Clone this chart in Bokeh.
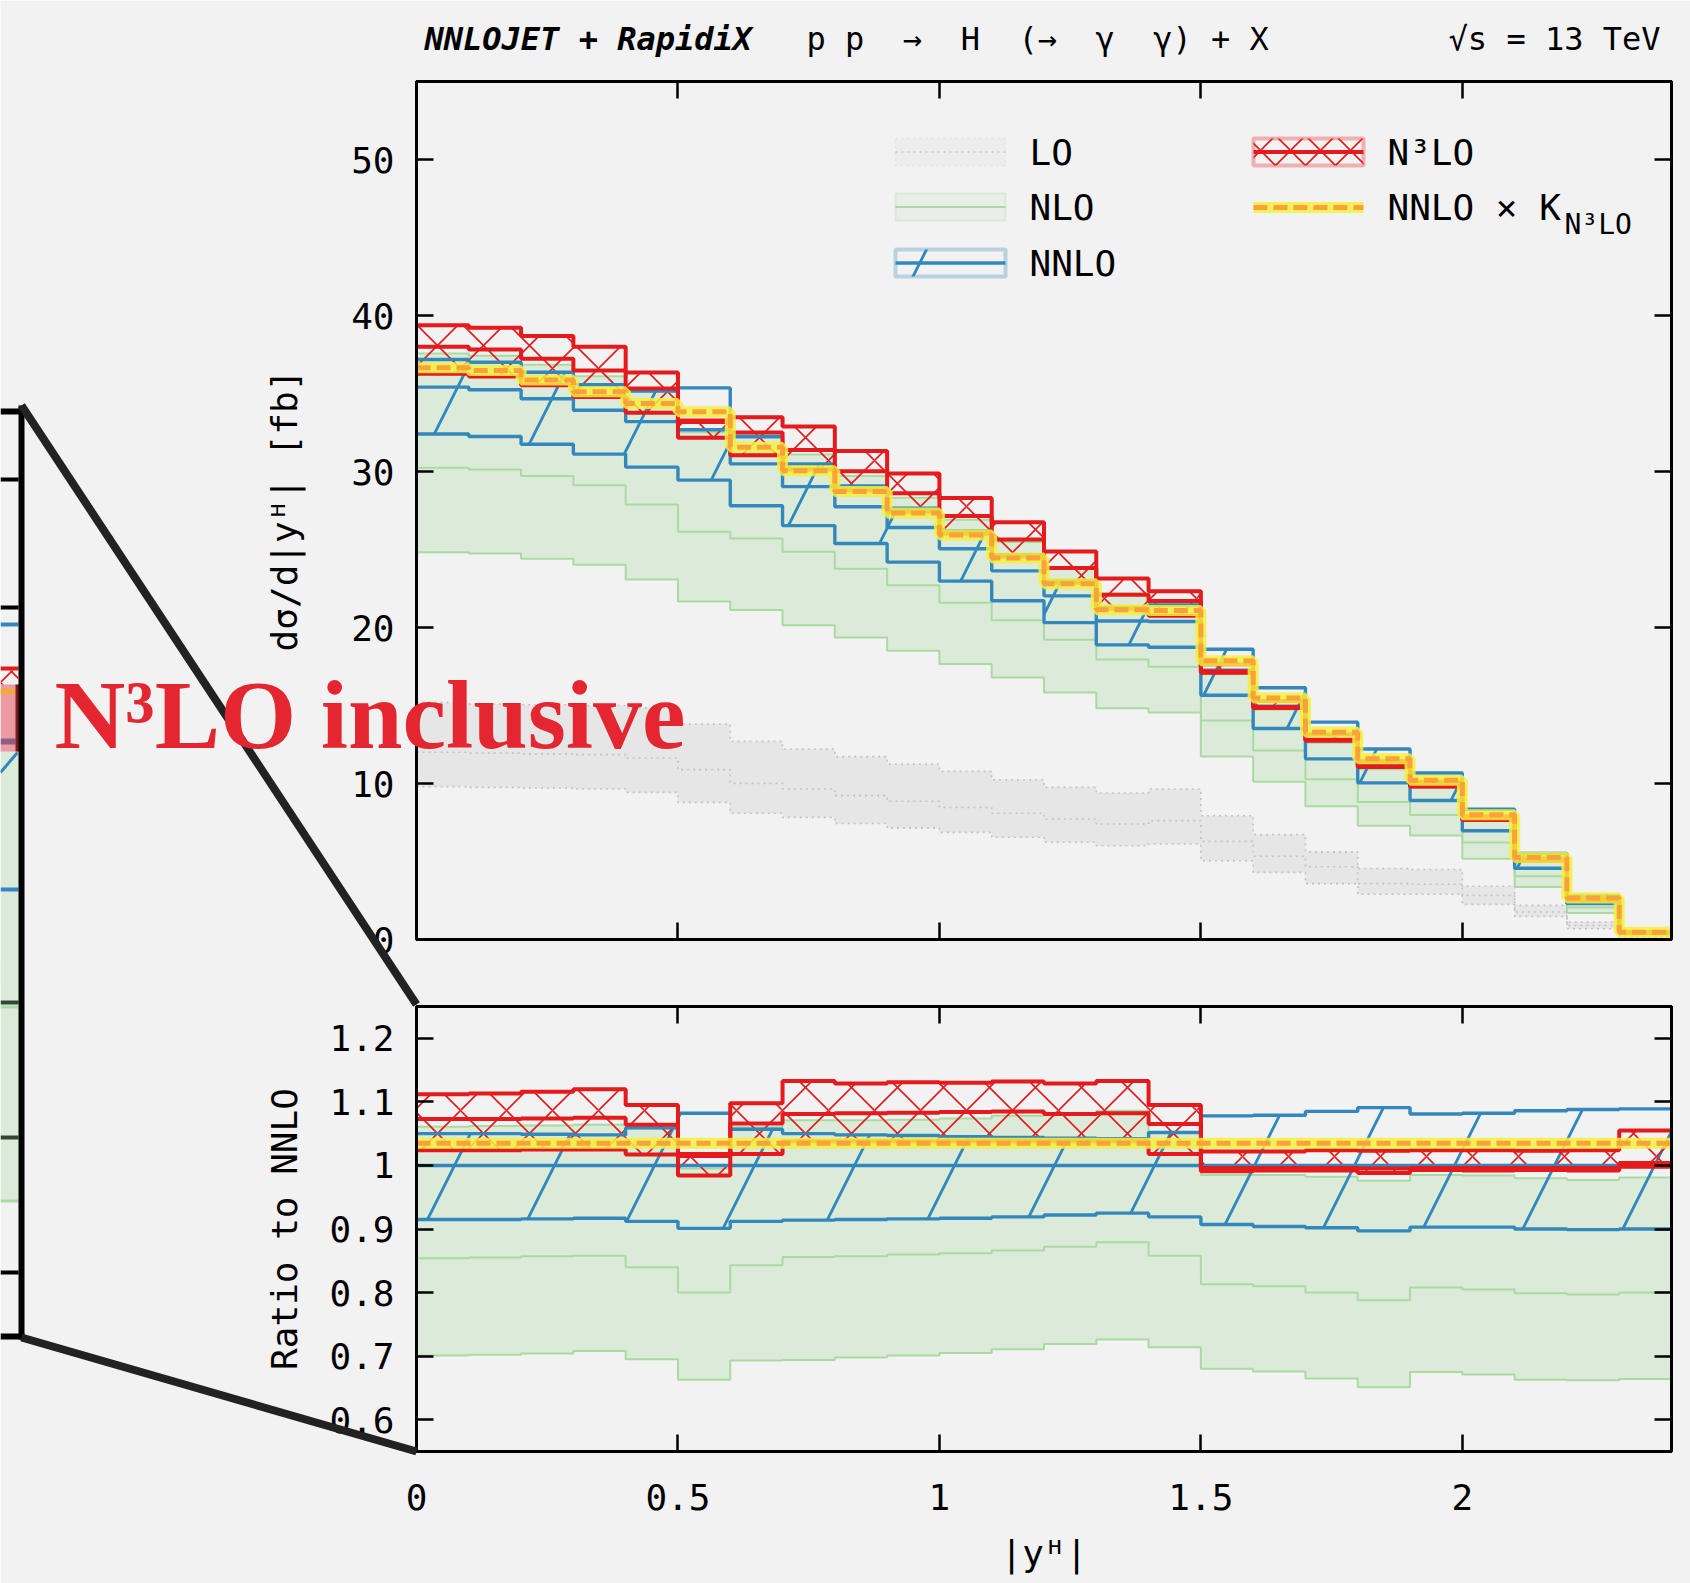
import numpy as np
from bokeh.plotting import figure
from bokeh.layouts import column
from bokeh.models import (Range1d, FixedTicker, LinearAxis, Label, BoxAnnotation,
                          Arrow, PrintfTickFormatter)
from bokeh.embed import file_html
from bokeh.resources import INLINE

# ---------------------------------------------------------------- data
# |y^H| bin edges
edges = [0.0, 0.1, 0.2, 0.3, 0.4, 0.5, 0.6, 0.7, 0.8, 0.9, 1.0, 1.1, 1.2,
         1.3, 1.4, 1.5, 1.6, 1.7, 1.8, 1.9, 2.0, 2.1, 2.2, 2.3, 2.4]

# LO cross section [fb]: scale-variation envelope and central value
lo_up = [15.2, 15.1, 15.05, 15.0, 14.85, 13.81, 12.70, 12.21, 11.72, 11.25, 10.78, 10.24,
         9.75, 9.39, 9.65, 7.93, 6.72, 5.62, 4.55, 4.49, 3.41, 2.19, 1.12, 0.35]
lo_central = [12.0, 11.95, 11.9, 11.85, 11.63, 10.89, 10.01, 9.65, 9.22, 8.86, 8.47, 8.09,
              7.72, 7.40, 7.62, 6.29, 5.34, 4.66, 3.58, 3.54, 2.83, 1.76, 0.90, 0.25]
lo_down = [9.8, 9.75, 9.7, 9.65, 9.43, 8.79, 8.09, 7.83, 7.44, 7.14, 6.87, 6.55,
           6.23, 6.01, 6.12, 5.05, 4.30, 3.58, 2.90, 2.90, 2.25, 1.48, 0.69, 0.15]

# NNLO central cross section [fb]
nnlo_central = [35.41, 35.24, 34.66, 33.93, 33.20, 32.68, 30.49, 29.03, 27.74, 26.41, 25.05, 23.63,
                22.03, 20.42, 20.38, 17.26, 14.96, 12.84, 11.19, 9.87, 7.72, 5.08, 2.57, 0.45]

# all other orders, relative to the NNLO central value
nnlo_up_r = [1.050, 1.050, 1.049, 1.048, 1.059, 1.082, 1.057, 1.050, 1.048, 1.047, 1.045, 1.044,
             1.043, 1.042, 1.052, 1.078, 1.079, 1.085, 1.091, 1.081, 1.082, 1.086, 1.088, 1.089]
nnlo_down_r = [0.915, 0.915, 0.916, 0.917, 0.912, 0.901, 0.912, 0.914, 0.915, 0.916, 0.917, 0.919,
               0.922, 0.925, 0.919, 0.907, 0.904, 0.902, 0.897, 0.903, 0.903, 0.900, 0.899, 0.900]

nlo_up_r = [1.061, 1.062, 1.063, 1.064, 1.058, 0.995, 1.060, 1.071, 1.071, 1.072, 1.074, 1.078,
            1.082, 1.086, 1.050, 0.985, 0.985, 0.982, 0.976, 0.985, 0.984, 0.980, 0.977, 0.981]
nlo_r = [0.854, 0.855, 0.857, 0.858, 0.840, 0.800, 0.843, 0.856, 0.857, 0.860, 0.862, 0.866,
         0.872, 0.879, 0.858, 0.813, 0.810, 0.800, 0.788, 0.808, 0.805, 0.799, 0.797, 0.800]
nlo_down_r = [0.701, 0.702, 0.704, 0.708, 0.695, 0.663, 0.693, 0.694, 0.698, 0.701, 0.705, 0.711,
              0.719, 0.726, 0.714, 0.680, 0.676, 0.665, 0.651, 0.675, 0.671, 0.663, 0.662, 0.664]

n3lo_up_r = [1.112, 1.113, 1.116, 1.120, 1.095, 1.018, 1.098, 1.133, 1.129, 1.131, 1.130, 1.132,
             1.129, 1.133, 1.095, 1.022, 1.022, 1.024, 1.023, 1.024, 1.024, 1.023, 1.024, 1.055]
n3lo_r = [1.073, 1.073, 1.074, 1.075, 1.064, 1.015, 1.066, 1.081, 1.082, 1.083, 1.084, 1.085,
          1.081, 1.082, 1.065, 0.996, 0.996, 0.996, 0.995, 0.996, 0.996, 0.996, 0.996, 1.004]
n3lo_down_r = [1.024, 1.024, 1.025, 1.025, 1.017, 0.984, 1.018, 1.038, 1.038, 1.038, 1.038, 1.038,
               1.038, 1.038, 1.018, 0.991, 0.992, 0.992, 0.988, 0.993, 0.992, 0.993, 0.992, 0.998]

# inclusive N3LO / NNLO K-factor
k_n3lo = 1.035

x_ticks = [0, 0.5, 1, 1.5, 2]
y_ticks_main = [0, 10, 20, 30, 40, 50]
y_ticks_ratio = [0.6, 0.7, 0.8, 0.9, 1.0, 1.1, 1.2]

# ---------------------------------------------------------------- style
BG = "#f2f2f2"
MONO = "DejaVu Sans Mono"
LO_FILL, LO_LINE = "#e6e6e6", "#c2c2c2"
NLO_FILL, NLO_LINE = "#dcebd9", "#a9dba1"
BLUE = "#3288bd"
RED = "#e41a1c"
YELLOW, ORANGE = "#f5f03c", "#f9a23b"
INK = "#222222"
BLUE_HATCH = 200
RED_HATCH = 46

nnlo = np.array(nnlo_central)
absolute = {
    "nlo": [np.array(r) * nnlo for r in (nlo_down_r, nlo_r, nlo_up_r)],
    "nnlo": [np.array(r) * nnlo for r in (nnlo_down_r, np.ones(len(nnlo)), nnlo_up_r)],
    "n3lo": [np.array(r) * nnlo for r in (n3lo_down_r, n3lo_r, n3lo_up_r)],
    "k": nnlo * k_n3lo,
}
relative = {key: ([v / nnlo for v in val] if isinstance(val, list) else val / nnlo)
            for key, val in absolute.items()}


def st(v):
    v = list(v)
    return v + [v[-1]]


def draw_orders(p, s, lo=None):
    if lo is not None:
        p.varea_step(x=edges, y1=st(lo[0]), y2=st(lo[2]), step_mode="after",
                     fill_color=LO_FILL, fill_alpha=1)
        for v in lo:
            p.step(x=edges, y=st(v), mode="after", line_color=LO_LINE,
                   line_width=1.6, line_dash="2 4")
    d, c, u = s["nlo"]
    p.varea_step(x=edges, y1=st(d), y2=st(u), step_mode="after", fill_color=NLO_FILL)
    for v in (d, c, u):
        p.step(x=edges, y=st(v), mode="after", line_color=NLO_LINE, line_width=2)
    d, c, u = s["nnlo"]
    p.varea_step(x=edges, y1=st(d), y2=st(u), step_mode="after", fill_alpha=0,
                 hatch_pattern="/", hatch_color=BLUE, hatch_scale=BLUE_HATCH, hatch_weight=2.8)
    rd, rc, ru = s["n3lo"]
    p.varea_step(x=edges, y1=st(rd), y2=st(ru), step_mode="after", fill_alpha=0,
                 hatch_pattern="x", hatch_color=RED, hatch_scale=RED_HATCH, hatch_weight=1.6)
    for v in (d, c, u):
        p.step(x=edges, y=st(v), mode="after", line_color=BLUE, line_width=3.4)
    for v in (rd, rc, ru):
        p.step(x=edges, y=st(v), mode="after", line_color=RED, line_width=4)
    p.step(x=edges, y=st(s["k"]), mode="after", line_color=YELLOW, line_alpha=0.85,
           line_width=11)
    p.step(x=edges, y=st(s["k"]), mode="after", line_color=ORANGE, line_width=5,
           line_dash="14 6")


def style_axis(ax, ticks, show_labels):
    ax.ticker = FixedTicker(ticks=ticks)
    ax.formatter = PrintfTickFormatter(format="%g")
    ax.major_tick_in = 17
    ax.major_tick_out = 0
    ax.minor_tick_in = 0
    ax.minor_tick_out = 0
    ax.major_tick_line_width = 2.5
    ax.major_tick_line_color = "black"
    ax.axis_line_width = 3
    ax.axis_line_color = "black"
    ax.major_label_text_font = MONO
    ax.axis_label_text_font = MONO
    ax.axis_label_text_font_size = "36px"
    ax.axis_label_text_font_style = "normal"
    ax.axis_label_text_color = "black"
    if show_labels:
        ax.major_label_text_font_size = "36px"
        ax.major_label_text_color = "black"
    else:
        # tick marks only on this side
        ax.major_label_text_font_size = "1px"
        ax.major_label_text_color = None
        ax.major_label_standoff = 0


def make_fig(height, y_range, top, bottom):
    p = figure(width=1690, height=height, x_range=xr, y_range=y_range,
               output_backend="svg", toolbar_location=None, title=None,
               min_border_left=416, min_border_right=19,
               min_border_top=top, min_border_bottom=bottom,
               background_fill_color=BG, border_fill_color=BG,
               outline_line_color="black", outline_line_width=3)
    p.grid.visible = False
    return p


def box(p, x0, x1, y0, y1, **kw):
    p.add_layout(BoxAnnotation(left=x0, right=x1, top=y0, bottom=y1,
                               left_units="canvas", right_units="canvas",
                               top_units="canvas", bottom_units="canvas", **kw))


def seg(p, x0, y0, x1, y1, **kw):
    p.add_layout(Arrow(end=None, x_start=x0, y_start=y0, x_end=x1, y_end=y1,
                       start_units="canvas", end_units="canvas", **kw))


def text(p, x, y, t, size, units="canvas", **kw):
    p.add_layout(Label(x=x, y=y, x_units=units, y_units=units, text=t,
                       text_font=kw.pop("font", MONO), text_font_size=size,
                       text_color=kw.pop("color", "black"), **kw))


xr = Range1d(0, 2.4)
SPLIT = 972  # canvas row where the ratio panel begins

# ---------------------------------------------------------------- main panel
p1 = make_fig(SPLIT, Range1d(0, 55), 81, 33)
draw_orders(p1, absolute, lo=(lo_down, lo_central, lo_up))
style_axis(p1.xaxis[0], x_ticks, False)
style_axis(p1.yaxis[0], y_ticks_main, True)
p1.yaxis[0].major_label_standoff = 22
p1.yaxis[0].axis_label = "dσ/d|yᴴ| [fb]"
p1.yaxis[0].axis_label_standoff = 43
for loc, ticks in (("right", y_ticks_main), ("above", x_ticks)):
    ax = LinearAxis()
    style_axis(ax, ticks, False)
    p1.add_layout(ax, loc)

# legend
box(p1, 895, 1005, 138, 165, fill_color=LO_FILL, line_color=LO_LINE, line_width=1.6, line_dash="2 4")
seg(p1, 895, 151.5, 1005, 151.5, line_color=LO_LINE, line_width=1.6, line_dash="2 4")
box(p1, 895, 1005, 193, 220, fill_color=NLO_FILL, line_color=NLO_LINE, line_width=2)
seg(p1, 895, 206.5, 1005, 206.5, line_color=NLO_LINE, line_width=2)
box(p1, 895, 1005, 249, 276, fill_alpha=0, line_color=BLUE, line_width=4,
    hatch_pattern="/", hatch_color=BLUE, hatch_scale=BLUE_HATCH, hatch_weight=2.8)
seg(p1, 895, 262.5, 1005, 262.5, line_color=BLUE, line_width=3.4)
box(p1, 1253, 1363, 138, 165, fill_alpha=0, line_color=RED, line_width=4,
    hatch_pattern="x", hatch_color=RED, hatch_scale=30, hatch_weight=1.6)
seg(p1, 1253, 151.5, 1363, 151.5, line_color=RED, line_width=4)
seg(p1, 1253, 207, 1363, 207, line_color=YELLOW, line_alpha=0.85, line_width=11)
seg(p1, 1253, 207, 1363, 207, line_color=ORANGE, line_width=5, line_dash="14 6")
for y, t in ((152, "LO"), (207, "NLO"), (263, "NNLO")):
    text(p1, 1029, y, t, "36px", text_baseline="middle")
text(p1, 1387, 152, "N³LO", "36px", text_baseline="middle")
text(p1, 1387, 207, "NNLO × K", "36px", text_baseline="middle")
text(p1, 1564, 224, "N³LO", "28px", text_baseline="alphabetic")

# ---------------------------------------------------------------- ratio panel
p2 = make_fig(1583 - SPLIT, Range1d(0.55, 1.25), 34, 132)
draw_orders(p2, relative)
style_axis(p2.xaxis[0], x_ticks, True)
p2.xaxis[0].major_label_standoff = 32
p2.xaxis[0].axis_label = "|yᴴ|"
p2.xaxis[0].axis_label_standoff = 20
style_axis(p2.yaxis[0], y_ticks_ratio, True)
p2.yaxis[0].major_label_standoff = 22
p2.yaxis[0].axis_label = "Ratio to NNLO"
p2.yaxis[0].axis_label_standoff = 21
for loc, ticks in (("right", y_ticks_ratio), ("above", x_ticks)):
    ax = LinearAxis()
    style_axis(ax, ticks, False)
    p2.add_layout(ax, loc)

# ---------------------------------------------------------------- page overlay (pixel space)
ov = figure(width=1690, height=1583, x_range=Range1d(0, 1690), y_range=Range1d(1583, 0),
            output_backend="svg", toolbar_location=None, title=None, min_border=0,
            x_axis_type=None, y_axis_type=None, background_fill_alpha=0,
            border_fill_alpha=0, outline_line_color=None,
            styles={"position": "absolute", "left": "0px", "top": "0px"})
ov.grid.visible = False

# background strip over the seam between the two panels
ov.quad(left=[0], right=[1690], top=[962], bottom=[984], fill_color=BG, line_alpha=0)

# header
text(ov, 424, 38, "NNLOJET + RapidiX", "32px", units="data", text_font_style="bold italic",
     text_baseline="alphabetic")
text(ov, 806, 38, "p\u00a0p\u00a0\u00a0→\u00a0\u00a0H\u00a0\u00a0(→\u00a0\u00a0γ\u00a0\u00a0γ)\u00a0+\u00a0X",
     "32px", units="data", text_baseline="alphabetic")
text(ov, 1660, 38, "√s = 13 TeV", "32px", units="data", text_align="right",
     text_baseline="alphabetic")

# magnified panel peeking in at the left edge
inset = [  # x0, x1, y0, y1, colour
    (0, 18, 748, 1201, NLO_FILL),
    (0, 18, 622, 626, BLUE),
    (0, 18, 887, 891, BLUE),
    (0, 18, 666, 670, RED),
    (0, 23, 684, 751, "#ee9aa2"),
    (0, 15, 688, 694, "#f4a640"),
    (0, 15, 738, 744, "#8e5f86"),
    (15, 23, 684, 751, "#7b1a1e"),
    (0, 18, 1000, 1004, "#344434"),
    (0, 18, 1005, 1008, NLO_LINE),
    (0, 18, 1135, 1139, "#344434"),
    (0, 18, 1199, 1202, NLO_LINE),
    (0, 18, 477, 481, "black"),
    (0, 18, 605, 609, "black"),
    (0, 18, 1270, 1274, "black"),
    (0, 24, 408, 414, "black"),
    (0, 24, 1333, 1339, "black"),
    (18, 24, 405, 1339, "black"),
]
ov.quad(left=[b[0] for b in inset], right=[b[1] for b in inset],
        top=[b[2] for b in inset], bottom=[b[3] for b in inset],
        fill_color=[b[4] for b in inset], line_alpha=0)
ov.quad(left=[0], right=[18], top=[670], bottom=[684], fill_alpha=0, line_alpha=0,
        hatch_pattern="x", hatch_color=RED, hatch_scale=22, hatch_weight=1.6)
ov.segment(x0=[0], y0=[772], x1=[17], y1=[752], line_color=BLUE, line_width=3)

# headline
text(ov, 54, 714, "N³LO inclusive", "98px", units="data", font="Liberation Serif",
     color="#e3262f", text_font_style="bold", text_baseline="alphabetic")

# connector lines from the magnified panel to the ratio panel corners
ov.segment(x0=[21, 21], y0=[405, 1337], x1=[416, 416], y1=[1004, 1451],
           line_color=INK, line_width=8)

layout = column(p1, p2)
open("out.html", "w").write(file_html([layout, ov], INLINE))
